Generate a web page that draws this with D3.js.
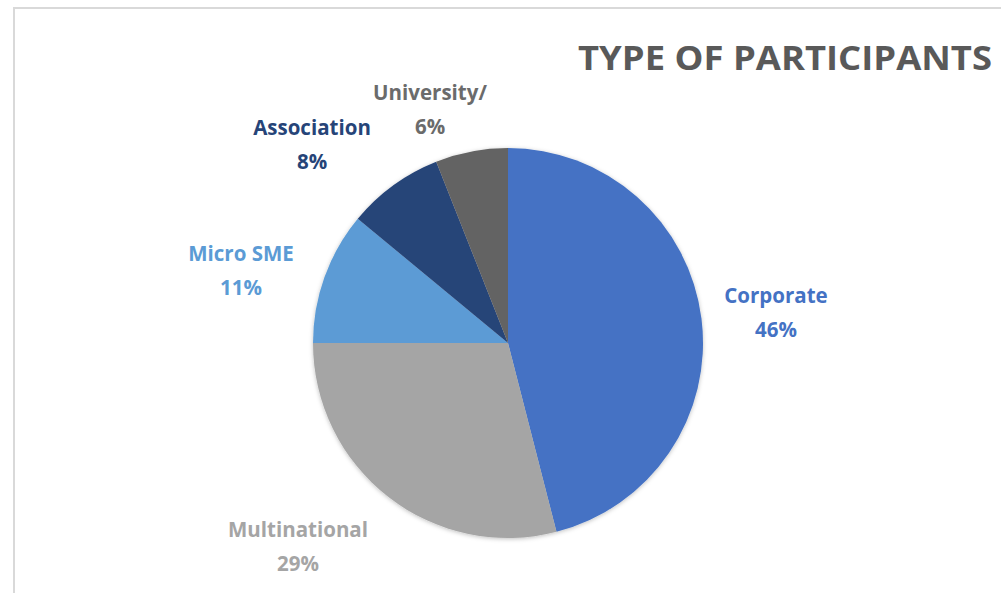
<!DOCTYPE html>
<html><head><meta charset="utf-8">
<script src="https://cdn.jsdelivr.net/npm/d3@7"></script>
<style>html,body{margin:0;padding:0;background:#fff;overflow:hidden}</style>
</head><body>
<svg id="c" width="1001" height="593"></svg>
<script>
const categories = ["Corporate", "Multinational", "Micro SME", "Association", "University/"];
const values = [46, 29, 11, 8, 6];
const colors = ["#4472C4", "#A5A5A5", "#5B9BD5", "#264478", "#636363"];
const labelColors = ["#4472C4", "#A5A5A5", "#5B9BD5", "#264478", "#6b6b6b"];
const title = "TYPE OF PARTICIPANTS";

const svg = d3.select("#c");
svg.append("rect").attr("x", 14).attr("y", 8).attr("width", 1000).attr("height", 600)
  .attr("fill", "#fff").attr("stroke", "#d9d9d9").attr("stroke-width", 2);

svg.append("text").attr("x", 785).attr("y", 70).attr("text-anchor", "middle")
  .attr("font-family", "Open Sans").attr("font-weight", 700).attr("font-size", 34)
  .attr("fill", "#595959").attr("textLength", 414).attr("lengthAdjust", "spacingAndGlyphs").text(title);

const defs = svg.append("defs");
const f = defs.append("filter").attr("id", "sh").attr("x", "-10%").attr("y", "-10%").attr("width", "120%").attr("height", "120%");
f.append("feDropShadow").attr("dx", 0).attr("dy", 1).attr("stdDeviation", 2).attr("flood-color", "#000").attr("flood-opacity", 0.25);

const cx = 508, cy = 343, r = 195;
const pie = d3.pie().sort(null).value(d => d)(values);
const arc = d3.arc().innerRadius(0).outerRadius(r);
const g = svg.append("g").attr("transform", `translate(${cx},${cy})`);
g.append("g").attr("filter", "url(#sh)").selectAll("path").data(pie).enter().append("path")
  .attr("d", arc).attr("fill", (d, i) => colors[i]);

const labelPos = [[268, -40], [-210, 194], [-267, -82], [-196, -208], [-78, -243]];
const lg = g.append("g");
pie.forEach((d, i) => {
  const t = lg.append("text").attr("text-anchor", "middle")
    .attr("font-family", "Open Sans").attr("font-weight", 700).attr("font-size", 20.5)
    .attr("fill", labelColors[i])
    .attr("transform", `translate(${labelPos[i][0]},${labelPos[i][1]})`);
  t.append("tspan").attr("x", 0).attr("dy", 0).text(categories[i]);
  t.append("tspan").attr("x", 0).attr("dy", 34).text(d3.format(".0%")(d.data / 100));
});
</script>
</body></html>
